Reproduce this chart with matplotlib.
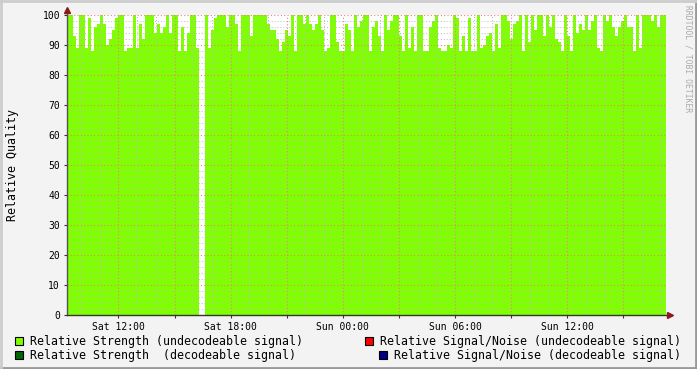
import numpy as np
import matplotlib.pyplot as plt
from matplotlib.patches import Rectangle
from matplotlib.lines import Line2D
from matplotlib.ticker import MultipleLocator, FuncFormatter

# time axis: hours since Saturday 00:00, one sample every 0.16 h
start_hour = 9.25
step_hour = 0.16

# relative strength (undecodeable signal) in 4 chunks
strength_1 = [100, 100, 93, 89, 100, 100, 89, 99, 88, 96, 97, 100, 97, 90, 92, 95, 99,
              100, 100, 88, 89, 89, 100, 89, 97, 92, 100, 100, 100, 94, 97, 94, 96,
              100, 94, 100, 100, 88, 96, 88, 94, 100, 100, 89, 89, np.nan, 100, 89, 95,
              99, 100]
strength_2 = [100, 100, 96, 100, 100, 97, 88, 100, 100, 100, 93, 100, 100, 100, 100, 100,
              97, 95, 95, 92, 88, 91, 95, 93, 100, 88, 100, 100, 97, 100, 97, 95, 97,
              100, 95, 88, 89, 100, 100, 91, 88, 88, 97, 95, 88, 100, 96, 98, 100, 100]
strength_3 = [88, 96, 98, 93, 88, 100, 95, 98, 100, 100, 93, 88, 100, 89, 96, 88, 100,
              100, 88, 88, 96, 98, 100, 89, 88, 88, 90, 89, 100, 99, 88, 93, 88, 99,
              88, 88, 100, 89, 90, 93, 94, 88, 97, 89, 100, 100, 98, 92, 97, 98]
strength_4 = [100, 88, 100, 91, 100, 95, 100, 100, 93, 100, 96, 100, 92, 91, 88, 100, 93,
              88, 100, 94, 97, 95, 100, 95, 98, 100, 89, 88, 100, 98, 100, 96, 93, 96,
              98, 100, 96, 96, 88, 100, 89, 100, 100, 100, 98, 100, 96, 100, 100]

y_ticks = list(range(0, 101, 10))
x_label_hours = [12, 18, 24, 30, 36]
legend_labels = ["Relative Strength (undecodeable signal)",
                 "Relative Signal/Noise (undecodeable signal)",
                 "Relative Strength  (decodeable signal)",
                 "Relative Signal/Noise (decodeable signal)"]
legend_colors = ["#7FFF00", "#FF0000", "#006600", "#000088"]

strength = np.array(strength_1 + strength_2 + strength_3 + strength_4, dtype=float)
edges = start_hour + step_hour * np.arange(len(strength) + 1)

W, H = 697, 369
bg = "#F3F3F3"
mono = "DejaVu Sans Mono"

fig = plt.figure(figsize=(W / 100, H / 100), dpi=100, facecolor=bg)
ax = fig.add_axes([67 / W, 54 / H, 598.5 / W, 300 / H])
ax.set_facecolor("white")

ys = np.append(strength, strength[-1])
ax.fill_between(edges, 0, ys, step="post", color=legend_colors[0], linewidth=0, zorder=1)

ax.set_xlim(edges[0], edges[-1])
ax.set_ylim(0, 100)

ax.xaxis.set_major_locator(MultipleLocator(3))
ax.xaxis.set_minor_locator(MultipleLocator(1))
ax.yaxis.set_major_locator(MultipleLocator(10))
ax.yaxis.set_minor_locator(MultipleLocator(2))


def hour_label(h, pos):
    h = int(round(h))
    if h not in x_label_hours:
        return ""
    day = "Sat" if h < 24 else "Sun"
    return "%s %02d:00" % (day, h % 24)


ax.xaxis.set_major_formatter(FuncFormatter(hour_label))
ax.set_yticks(y_ticks)
ax.set_yticklabels([str(v) for v in y_ticks])

ax.grid(which="minor", color="#BBBBBB", linestyle=(0, (1, 2)), linewidth=0.7)
ax.grid(which="major", color="#F08080", linestyle=(0, (1, 2)), linewidth=0.8)
ax.set_axisbelow(False)

ax.tick_params(which="both", direction="out", length=2, width=0.8,
               labelsize=7, colors="#333333", pad=3)
ax.tick_params(which="minor", length=0)
for lab in ax.get_xticklabels() + ax.get_yticklabels():
    lab.set_fontfamily(mono)
    lab.set_color("black")

for s in ["top", "right", "left", "bottom"]:
    ax.spines[s].set_visible(False)

# axes with arrows, RRDtool style
ax.add_line(Line2D([0, 0], [0, 1.018], transform=ax.transAxes, color="#555555",
                   linewidth=1, clip_on=False, zorder=5))
ax.add_line(Line2D([0, 1.008], [0, 0], transform=ax.transAxes, color="#333333",
                   linewidth=1, clip_on=False, zorder=5))
ax.plot([0], [1.018], marker="^", markersize=4, color="#8B1A1A", transform=ax.transAxes,
        clip_on=False, zorder=6)
ax.plot([1.008], [0], marker=">", markersize=4, color="#8B1A1A", transform=ax.transAxes,
        clip_on=False, zorder=6)

ax.set_ylabel("Relative Quality", fontfamily=mono, fontsize=8.4)
ax.yaxis.set_label_coords(-48 / 598.5, 0.5)

fig.text(688 / W, 1 - 5 / H, "RRDTOOL / TOBI OETIKER", rotation=270, fontfamily=mono,
         fontsize=5.8, color="#AAAAAA", ha="center", va="top")

# legend
rows = [341, 355]
entries = [(15, 30, rows[0]), (365.3, 380.3, rows[0]), (15, 30, rows[1]), (379.3, 394.3, rows[1])]
for (sx, tx, ty), lab, col in zip(entries, legend_labels, legend_colors):
    fig.patches.append(Rectangle((sx / W, 1 - (ty + 4) / H), 8 / W, 8 / H,
                                 transform=fig.transFigure, facecolor=col,
                                 edgecolor="black", linewidth=0.8))
    fig.text(tx / W, 1 - ty / H, lab, fontfamily=mono, fontsize=8.36,
             ha="left", va="center", color="black")

# outer frame
fig.add_artist(Line2D([0, 1], [1 / H, 1 / H], transform=fig.transFigure, color="#999999", linewidth=2))
fig.add_artist(Line2D([1 - 1 / W, 1 - 1 / W], [0, 1], transform=fig.transFigure, color="#999999", linewidth=2))
fig.add_artist(Line2D([1 / W, 1 / W], [0, 1], transform=fig.transFigure, color="#CCCCCC", linewidth=2))
fig.add_artist(Line2D([0, 1], [1 - 1 / H, 1 - 1 / H], transform=fig.transFigure, color="#CCCCCC", linewidth=2))

fig.savefig("out.png", dpi=100, facecolor=bg)
